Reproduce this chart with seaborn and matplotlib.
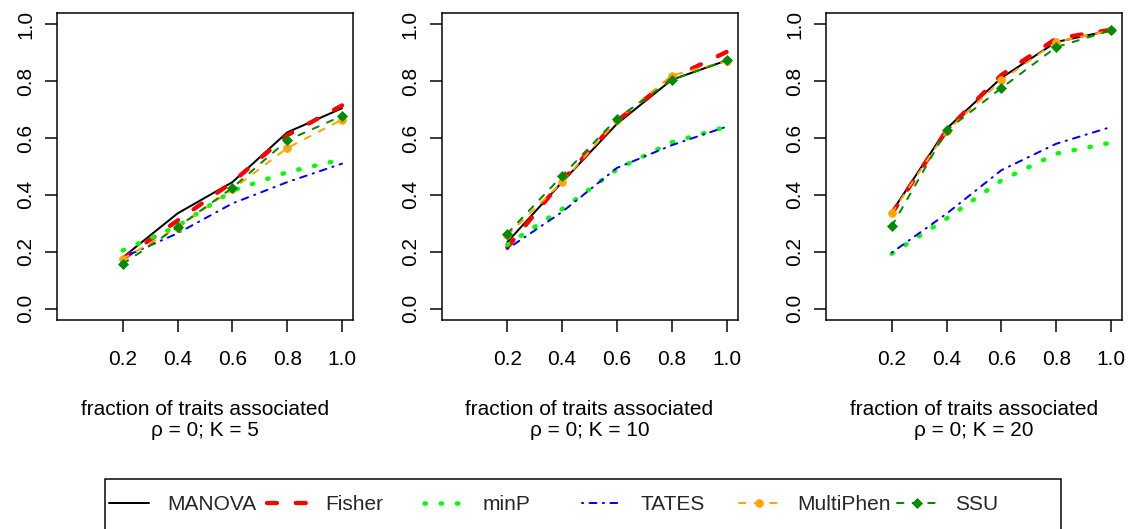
import numpy as np
import pandas as pd
import matplotlib
matplotlib.use("Agg")
import matplotlib.pyplot as plt
from matplotlib.patches import Rectangle
import seaborn as sns

# ---------------- data ----------------
fractions = [0.2, 0.4, 0.6, 0.8, 1.0]
methods = ["MANOVA", "Fisher", "minP", "TATES", "MultiPhen", "SSU"]
panel_titles = ["\u03c1 = 0; K = 5", "\u03c1 = 0; K = 10", "\u03c1 = 0; K = 20"]

# panel K = 5
k5_manova = [0.18, 0.335, 0.445, 0.62, 0.705]
k5_fisher = [0.175, 0.31, 0.445, 0.61, 0.715]
k5_minp = [0.205, 0.29, 0.415, 0.48, 0.525]
k5_tates = [0.18, 0.265, 0.37, 0.445, 0.51]
k5_multiphen = [0.175, 0.285, 0.42, 0.565, 0.665]
k5_ssu = [0.157, 0.287, 0.425, 0.592, 0.678]

# panel K = 10
k10_manova = [0.234, 0.445, 0.65, 0.805, 0.873]
k10_fisher = [0.215, 0.45, 0.66, 0.81, 0.903]
k10_minp = [0.225, 0.35, 0.49, 0.585, 0.64]
k10_tates = [0.21, 0.34, 0.495, 0.575, 0.64]
k10_multiphen = [0.258, 0.445, 0.662, 0.82, 0.87]
k10_ssu = [0.264, 0.467, 0.668, 0.805, 0.873]

# panel K = 20
k20_manova = [0.34, 0.633, 0.812, 0.938, 0.979]
k20_fisher = [0.334, 0.627, 0.822, 0.95, 0.981]
k20_minp = [0.193, 0.317, 0.451, 0.545, 0.584]
k20_tates = [0.197, 0.334, 0.487, 0.58, 0.639]
k20_multiphen = [0.336, 0.624, 0.803, 0.938, 0.979]
k20_ssu = [0.29, 0.627, 0.776, 0.92, 0.979]

panels = [
    [k5_manova, k5_fisher, k5_minp, k5_tates, k5_multiphen, k5_ssu],
    [k10_manova, k10_fisher, k10_minp, k10_tates, k10_multiphen, k10_ssu],
    [k20_manova, k20_fisher, k20_minp, k20_tates, k20_multiphen, k20_ssu],
]

# ---------------- styles ----------------
PX = 72 / 100  # points per pixel at dpi 100
styles = {
    "MANOVA": dict(color="black", lw=2.0 * PX, linestyle="-", marker=None),
    "Fisher": dict(color="#FF0000", lw=4.3 * PX, linestyle=(0, (2.3, 4.4)), marker=None),
    "minP": dict(color="#00FF00", lw=4.5 * PX, linestyle=(0, (0.3, 3.3)), marker=None),
    "TATES": dict(color="#0000FF", lw=2.0 * PX, linestyle=(0, (0.6, 3.2, 3.4, 3.2)), marker=None),
    "MultiPhen": dict(color="#FFA500", lw=2.0 * PX, linestyle=(0, (3.2, 4.6)), marker="o", ms=5.6),
    "SSU": dict(color="#008B00", lw=2.0 * PX, linestyle=(0, (3.2, 4.6)), marker="D", ms=4.6),
}

sns.set_theme(style="white")
plt.rcParams["font.family"] = ["Liberation Sans", "DejaVu Sans"]
plt.rcParams["axes.linewidth"] = 1.5 * PX

W, H = 1128, 529
fig = plt.figure(figsize=(W / 100, H / 100), dpi=100)
fig.patch.set_facecolor("white")

ax_lefts = [57, 441.5, 826]
ax_width = 296
ax_top, ax_bottom = 13, 320
FS = 15

handles = None
for i, (left, vals, title) in enumerate(zip(ax_lefts, panels, panel_titles)):
    ax = fig.add_axes([left / W, 1 - ax_bottom / H, ax_width / W, (ax_bottom - ax_top) / H])
    ax.set_facecolor("white")
    for name, y in zip(methods, vals):
        st = styles[name]
        df = pd.DataFrame({"x": fractions, "y": y})
        kw = dict(color=st["color"], linewidth=st["lw"], linestyle=st["linestyle"],
                  dash_capstyle="round", solid_capstyle="round")
        if st["marker"]:
            kw.update(marker=st["marker"], markersize=st["ms"],
                      markeredgecolor=st["color"], markerfacecolor=st["color"],
                      markeredgewidth=0.5)
        sns.lineplot(data=df, x="x", y="y", ax=ax, errorbar=None, label=name,
                     legend=False, **kw)
    if ax.get_legend() is not None:
        ax.get_legend().remove()
    if i == 0:
        handles = list(ax.get_lines())
    ax.set_xlim(-0.04, 1.04)
    ax.set_ylim(-0.04, 1.04)
    ax.set_xticks(fractions)
    ax.set_xticklabels([f"{v:.1f}" for v in fractions])
    yt = [0.0, 0.2, 0.4, 0.6, 0.8, 1.0]
    ax.set_yticks(yt)
    ax.set_yticklabels([f"{v:.1f}" for v in yt], rotation=90, va="center")
    ax.tick_params(axis="both", which="major", direction="out", length=12 * PX,
                   width=1.5 * PX, color="black", labelsize=FS, labelcolor="black",
                   bottom=True, left=True)
    ax.tick_params(axis="x", pad=13)
    ax.tick_params(axis="y", pad=7)
    for sp in ax.spines.values():
        sp.set_color("black")
        sp.set_linewidth(1.5 * PX)
        sp.set_visible(True)
    ax.grid(False)
    ax.set_xlabel("fraction of traits associated\n" + title, fontsize=FS,
                  color="black", labelpad=22, linespacing=1.15)
    ax.set_ylabel("")

# horizontal legend with equal-width entries (as in R's horiz legend), plus a box
entry_step = 157.6  # pixels between entries
for j, (h, name) in enumerate(zip(handles, methods)):
    fig.legend([h], [name], loc="center left",
               bbox_to_anchor=((109 + j * entry_step) / W, 1 - 505 / H), frameon=False,
               fontsize=FS, handlelength=1.9, handletextpad=0.9,
               borderpad=0, borderaxespad=0, numpoints=1)
fig.patches.append(Rectangle((105 / W, -0.05), (1061 - 105) / W, (529 - 479) / H + 0.05,
                             transform=fig.transFigure, fill=False,
                             edgecolor="black", linewidth=1.5 * PX))

fig.savefig("out.png", dpi=100, facecolor="white")
